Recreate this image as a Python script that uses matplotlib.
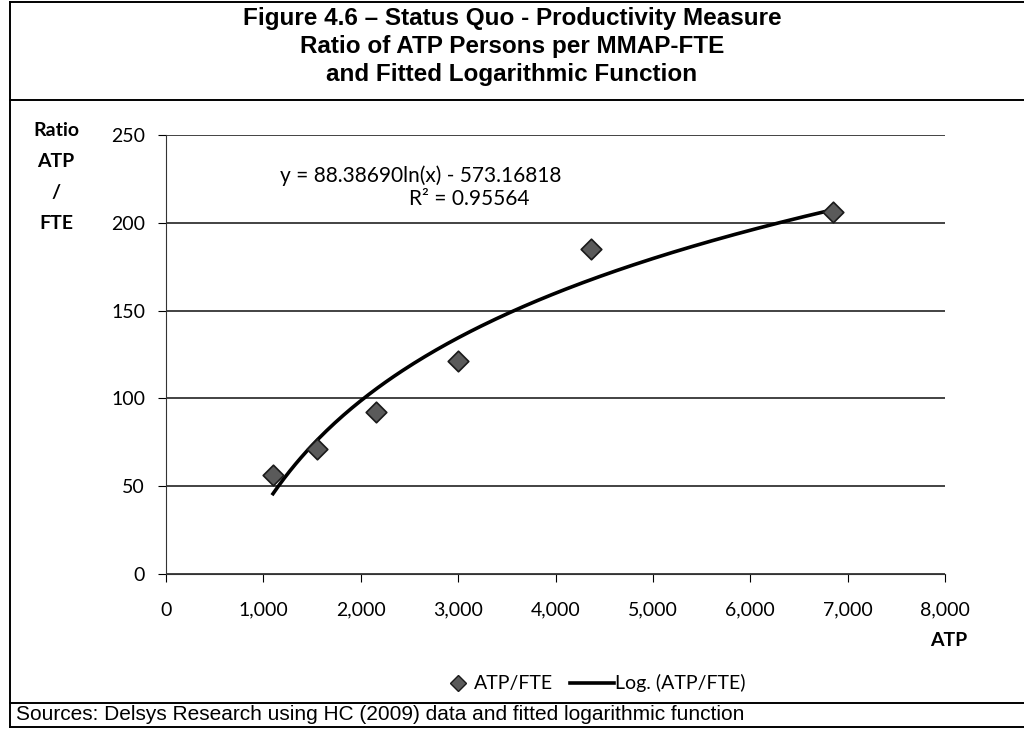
import matplotlib.pyplot as plt
import numpy as np
from matplotlib.lines import Line2D

# data
atp = np.array([1099, 1552, 2160, 2998, 4361, 6854])
ratio = np.array([56.5, 71, 92, 121.5, 185, 206])
# trend line coefficients as printed on the chart
coef_a = 88.38690
coef_b = -573.16818
r2 = 0.95564
xticks = [0, 1000, 2000, 3000, 4000, 5000, 6000, 7000, 8000]
yticks = [0, 50, 100, 150, 200, 250]

title_lines = ["Figure 4.6 \u2013 Status Quo - Productivity Measure",
               "Ratio of ATP Persons per MMAP-FTE",
               "and Fitted Logarithmic Function"]
source = "Sources: Delsys Research using HC (2009) data and fitted logarithmic function"

fig = plt.figure(figsize=(10.24, 7.3), dpi=100)
W, H = 1024, 730

def fx(px):
    return px / W

def fy(py):
    return 1 - py / H

ax = fig.add_axes([fx(166), fy(574), fx(945) - fx(166), fy(135) - fy(574)])

body = "Lato"
pt_col = "#5a5a5a"

# fitted curve, drawn from the printed equation over the data range
xs = np.linspace(atp.min(), atp.max(), 200)
ax.plot(xs, coef_a * np.log(xs) + coef_b, color="black", lw=2.6, zorder=3)
ax.scatter(atp, ratio, marker="D", s=110, color=pt_col, edgecolor="#1a1a1a",
           linewidth=1.2, zorder=4)

ax.set_xlim(0, 8000)
ax.set_ylim(0, 250)
ax.set_xticks(xticks)
ax.set_xticklabels([f"{v:,}" for v in xticks], fontfamily=body, fontsize=14)
ax.set_yticks(yticks)
ax.set_yticklabels([str(v) for v in yticks], fontfamily=body, fontsize=14)
ax.tick_params(axis="x", direction="out", length=6, pad=14)
ax.tick_params(axis="y", direction="out", length=6, pad=9)
ax.grid(axis="y", color="#222222", lw=1.2)
ax.set_axisbelow(True)
for s in ["top", "right"]:
    ax.spines[s].set_visible(False)
ax.spines["left"].set_color("#333333")
ax.spines["bottom"].set_color("#333333")

ax.text(2620, 227, f"y = {coef_a:.5f}ln(x) - {-coef_b:.5f}", ha="center", va="center",
        fontfamily=body, fontsize=15)
ax.text(3110, 213.5, f"R\u00b2 = {r2:.5f}", ha="center", va="center",
        fontfamily=body, fontsize=15)

# axis titles
fig.text(fx(56), fy(122), "Ratio\nATP\n/\nFTE", ha="center", va="top",
         fontfamily=body, fontweight="bold", fontsize=14, linespacing=2.0)
fig.text(fx(949), fy(640), "ATP", ha="center", va="center",
         fontfamily=body, fontweight="bold", fontsize=14)

# legend, laid out by hand so the spacing matches the original
fig.add_artist(Line2D([fx(458)], [fy(683)], marker="D", ls="none", color=pt_col,
                      markeredgecolor="#1a1a1a", markersize=8))
fig.text(fx(474), fy(683), "ATP/FTE", ha="left", va="center", fontfamily=body, fontsize=14)
fig.add_artist(Line2D([fx(570), fx(614)], [fy(683), fy(683)], color="black", lw=2.6))
fig.text(fx(615), fy(683), "Log. (ATP/FTE)", ha="left", va="center", fontfamily=body, fontsize=14)

# title
for i, t in enumerate(title_lines):
    fig.text(fx(512), fy(19 + 28 * i), t, ha="center", va="center",
             fontfamily="Liberation Sans", fontweight="bold", fontsize=17.5)

fig.text(fx(16), fy(715), source, ha="left", va="center",
         fontfamily="Liberation Sans", fontsize=15)

# frame lines
lines = [([10, 10], [2, 727]), ([10, 1024], [2, 2]), ([10, 1024], [100, 100]),
         ([10, 1024], [703, 703]), ([10, 1024], [727, 727])]
for xx, yy in lines:
    fig.add_artist(Line2D([fx(v) for v in xx], [fy(v) for v in yy], color="black", lw=1.4))

fig.savefig("out.png", dpi=100, facecolor="white")
